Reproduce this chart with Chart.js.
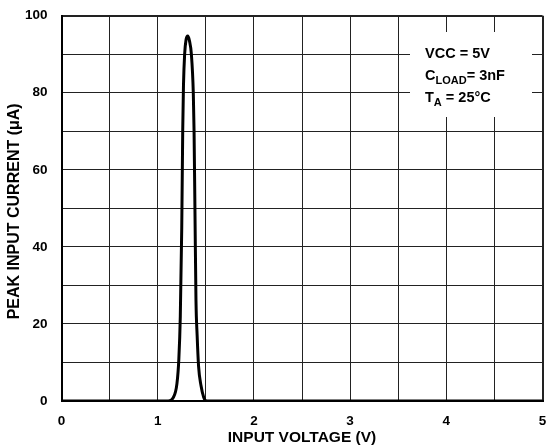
<!DOCTYPE html>
<html>
<head>
<meta charset="utf-8">
<script src="https://cdn.jsdelivr.net/npm/chart.js@4/dist/chart.umd.min.js"></script>
<style>
  html, body { margin: 0; padding: 0; background: #fff; }
  #wrap { width: 546px; height: 447px; }
</style>
</head>
<body>
<div id="wrap"><canvas id="peakChart" width="546" height="447"></canvas></div>
<script>
// data
const voltages = [0, 1.11, 1.16, 1.20, 1.22, 1.235, 1.25, 1.26, 1.268, 1.28, 1.295, 1.312, 1.33, 1.35, 1.37, 1.378, 1.387, 1.398, 1.41, 1.425, 1.45, 1.478, 1.51, 5];
const currents = [0, 0, 0.8, 4.5, 11, 22, 45, 70, 82, 90, 93.8, 94.7, 93.5, 90, 80, 70, 50, 26, 17, 9, 4, 1, 0, 0];
const xTicks = [0, 1, 2, 3, 4, 5];
const yTicks = [0, 20, 40, 60, 80, 100];
const notes = ["VCC = 5V", "C|LOAD|= 3nF", "T|A| = 25\u00B0C"]; // |x| = subscript

const FONT = '"Liberation Sans", Arial, Helvetica, sans-serif';

var points = voltages.map(function(v, i) { return {x: v, y: currents[i]}; });

// y title + conditions box, drawn by hand
var extras = {
  id: "extras",
  afterDraw: function(chart) {
    var ctx = chart.ctx;
    var area = chart.chartArea;
    ctx.save();
    // y title
    ctx.font = "bold 16px " + FONT;
    ctx.fillStyle = "#000";
    ctx.textAlign = "center";
    ctx.textBaseline = "middle";
    ctx.translate(15, (area.top + area.bottom) / 2 + 3);
    ctx.rotate(-Math.PI / 2);
    ctx.fillText("PEAK INPUT CURRENT (\u03BCA)", 0, 0);
    ctx.restore();

    // white box behind the notes
    ctx.save();
    ctx.fillStyle = "#fff";
    ctx.fillRect(410, 32, 122, 85);
    ctx.fillStyle = "#000";
    ctx.textBaseline = "alphabetic";
    ctx.textAlign = "left";
    notes.forEach(function(line, i) {
      var x = 425;
      var y = 58 + i * 22;
      line.split("|").forEach(function(part, j) {
        if (!part) return;
        var sub = j % 2 == 1;
        ctx.font = "bold " + (sub ? 11 : 14.5) + "px " + FONT;
        ctx.fillText(part, x, sub ? y + 4 : y);
        x += ctx.measureText(part).width;
      });
    });
    ctx.restore();
  }
};

function edgeWidth(ctx, lo, hi) {
  var v = ctx.tick ? ctx.tick.value : null;
  return (v === lo || v === hi) ? 2 : 1;
}

new Chart("peakChart", {
  type: "scatter",
  data: {
    datasets: [{
      data: points,
      showLine: true,
      borderColor: "#000",
      borderWidth: 3,
      pointRadius: 0,
      cubicInterpolationMode: "monotone",
      fill: false
    }]
  },
  options: {
    responsive: false,
    animation: false,
    devicePixelRatio: 1,
    layout: { padding: { left: 0, right: 3.5, top: 15.7, bottom: 0 } },
    plugins: { legend: { display: false }, tooltip: { enabled: false } },
    scales: {
      x: {
        type: "linear",
        min: 0, max: 5,
        border: { color: "#000", width: 2 },
        grid: {
          color: "#222",
          lineWidth: function(ctx) { return edgeWidth(ctx, 0, 5); },
          drawTicks: false
        },
        ticks: {
          stepSize: 0.5,
          padding: 12,
          color: "#000",
          font: { family: FONT, size: 13.5, weight: "bold" },
          callback: function(v) { return xTicks.indexOf(v) >= 0 ? String(v) : ""; }
        },
        title: {
          display: true,
          text: "INPUT VOLTAGE (V)",
          color: "#000",
          font: { family: FONT, size: 15.5, weight: "bold" },
          padding: { top: 0, bottom: 0 }
        },
        afterFit: function(scale) {
          scale.height = 46;
          scale.paddingLeft = 0;
          scale.paddingRight = 0;
        }
      },
      y: {
        min: 0, max: 100,
        border: { color: "#000", width: 2 },
        grid: {
          color: "#222",
          lineWidth: function(ctx) { return edgeWidth(ctx, 0, 100); },
          drawTicks: false
        },
        ticks: {
          stepSize: 10,
          padding: 14,
          color: "#000",
          font: { family: FONT, size: 13.5, weight: "bold" },
          callback: function(v) { return yTicks.indexOf(v) >= 0 ? String(v) : ""; }
        },
        afterFit: function(scale) {
          scale.width = 61.5;
          scale.paddingTop = 0;
          scale.paddingBottom = 0;
        }
      }
    }
  },
  plugins: [extras]
});
</script>
</body>
</html>
